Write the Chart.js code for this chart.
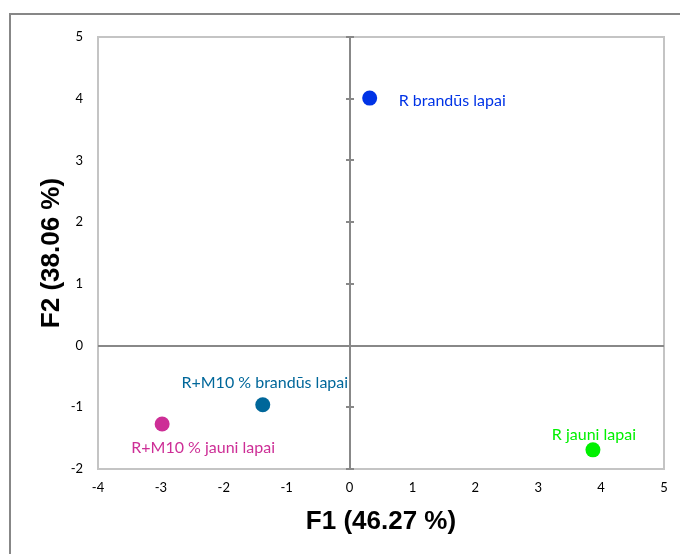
<!DOCTYPE html>
<html>
<head>
<meta charset="utf-8">
<script src="https://cdn.jsdelivr.net/npm/chart.js@4.4.1/dist/chart.umd.min.js"></script>
<style>
    html, body { margin: 0; padding: 0; background: #fff; }
    #wrap { position: relative; width: 680px; height: 554px; overflow: hidden; }
    #wrap canvas { position: absolute; left: 0; top: 0; }
    #frame {
        position: absolute; left: 9px; top: 13px; right: -4px; bottom: -4px;
        border-left: 2px solid #878787; border-top: 2px solid #878787;
        pointer-events: none;
    }
</style>
</head>
<body>
<div id="wrap">
    <canvas id="pcaChart" width="680" height="554"></canvas>
    <div id="frame"></div>
</div>
<script>
// observations on the first two factors
const sampleNames = ['R brandūs lapai', 'R+M10 % brandūs lapai', 'R+M10 % jauni lapai', 'R jauni lapai'];
const f1Values = [0.32, -1.38, -2.98, 3.87];
const f2Values = [4.01, -0.96, -1.27, -1.69];
const sampleColors = ['#0033E6', '#00679A', '#CD2E96', '#00F000'];

const xAxisTitle = 'F1 (46.27 %)';
const yAxisTitle = 'F2 (38.06 %)';
const xRange = [-4, 5];
const yRange = [-2, 5];

// where each point label sits relative to its marker
const labelPlacement = [
    { dx: 29, dy: 3, align: 'left' },
    { dx: 2, dy: -22, align: 'center' },
    { dx: 41, dy: 24, align: 'center' },
    { dx: 1, dy: -15, align: 'center' }
];

const tickFont = { family: 'Lato', size: 13 };
const titleFont = { family: "'Liberation Sans', Arial, sans-serif", size: 26, weight: 'bold' };
const labelFont = "16px Lato";

const pcaPlot = {
    id: 'pcaPlot',
    beforeDatasetsDraw(chart) {
        const { ctx, chartArea: a, scales: { x, y } } = chart;
        ctx.save();
        // plot area border
        ctx.strokeStyle = '#C4C4C4';
        ctx.lineWidth = 2;
        ctx.strokeRect(a.left, a.top, a.right - a.left, a.bottom - a.top);

        // axes through the origin, ticks only on the vertical one
        const x0 = Math.round(x.getPixelForValue(0));
        const y0 = Math.round(y.getPixelForValue(0));
        ctx.strokeStyle = '#888888';
        ctx.beginPath();
        ctx.moveTo(a.left, y0); ctx.lineTo(a.right, y0);
        ctx.moveTo(x0, a.top); ctx.lineTo(x0, a.bottom);
        y.ticks.forEach(t => {
            const py = Math.round(y.getPixelForValue(t.value));
            ctx.moveTo(x0 - 4, py); ctx.lineTo(x0 + 4, py);
        });
        ctx.stroke();
        ctx.restore();
    },
    afterDatasetsDraw(chart) {
        const { ctx } = chart;
        const meta = chart.getDatasetMeta(0);
        ctx.save();
        ctx.font = labelFont;
        ctx.textBaseline = 'middle';
        meta.data.forEach((pt, i) => {
            const p = labelPlacement[i];
            ctx.fillStyle = sampleColors[i];
            ctx.textAlign = p.align;
            ctx.fillText(sampleNames[i], pt.x + p.dx, pt.y + p.dy);
        });
        ctx.restore();
    }
};

const ctx = document.getElementById('pcaChart').getContext('2d');
new Chart(ctx, {
    type: 'scatter',
    data: {
        labels: sampleNames,
        datasets: [{
            data: f1Values.map((v, i) => ({ x: v, y: f2Values[i] })),
            backgroundColor: sampleColors,
            borderWidth: 0,
            pointRadius: 7.5,
            pointHoverRadius: 7.5
        }]
    },
    options: {
        responsive: false,
        devicePixelRatio: 1,
        animation: false,
        layout: { padding: { left: 0, top: 37, right: 16, bottom: 0 } },
        plugins: {
            legend: { display: false },
            tooltip: { enabled: false }
        },
        scales: {
            x: {
                type: 'linear',
                min: xRange[0],
                max: xRange[1],
                grid: { display: false, drawTicks: false },
                border: { display: false },
                ticks: { stepSize: 1, color: '#000', font: tickFont, padding: 11 },
                title: { display: true, text: xAxisTitle, color: '#000', font: titleFont, padding: { top: 0, bottom: 17 } },
                afterFit(scale) { scale.height = 85; }
            },
            y: {
                type: 'linear',
                min: yRange[0],
                max: yRange[1],
                grid: { display: false, drawTicks: false },
                border: { display: false },
                ticks: { stepSize: 1, color: '#000', font: tickFont, padding: 15 },
                title: { display: true, text: yAxisTitle, color: '#000', font: titleFont, padding: { top: 36, bottom: 0 } },
                afterFit(scale) { scale.width = 98; }
            }
        }
    },
    plugins: [pcaPlot]
});
</script>
</body>
</html>
